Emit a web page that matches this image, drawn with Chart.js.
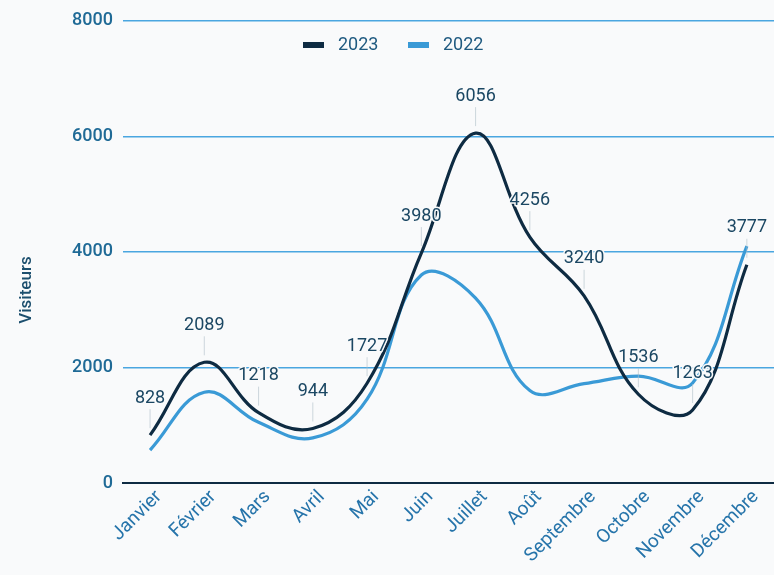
<!DOCTYPE html>
<html>
<head>
<meta charset="utf-8">
<script src="https://cdn.jsdelivr.net/npm/chart.js@4"></script>
<style>
  html, body { margin: 0; padding: 0; background: #f9fafb; }
  #wrap { width: 774px; height: 575px; }
</style>
</head>
<body>
<div id="wrap"><canvas id="chart"></canvas></div>
<script>
const months = ['Janvier', 'Février', 'Mars', 'Avril', 'Mai', 'Juin', 'Juillet', 'Août', 'Septembre', 'Octobre', 'Novembre', 'Décembre'];
const visits2023 = [828, 2089, 1218, 944, 1727, 3980, 6056, 4256, 3240, 1536, 1263, 3777];
const visits2022 = [570, 1570, 1050, 780, 1450, 3600, 3200, 1600, 1720, 1850, 1730, 4100];
const yTicks = [0, 2000, 4000, 6000, 8000];

const ff = 'Roboto, "Noto Sans", sans-serif';
const navy = '#0e2b42';
const sky = '#3a9ad6';
const bg = '#f9fafb';

// value labels with a short grey leader line, drawn above each 2023 point
const valueLabels = {
    id: 'valueLabels',
    afterDatasetsDraw(chart) {
        const ctx = chart.ctx;
        const meta = chart.getDatasetMeta(0);
        ctx.save();
        ctx.font = '18px ' + ff;
        ctx.textAlign = 'center';
        ctx.textBaseline = 'middle';
        meta.data.forEach((pt, i) => {
            const x = pt.x, y = pt.y;
            ctx.strokeStyle = 'rgba(175,190,200,0.6)';
            ctx.lineWidth = 1;
            ctx.beginPath();
            ctx.moveTo(x, y - 26);
            ctx.lineTo(x, y - 7);
            ctx.stroke();
            ctx.lineWidth = 3;
            ctx.strokeStyle = bg;
            ctx.lineJoin = 'round';
            ctx.strokeText(String(visits2023[i]), x, y - 37);
            ctx.fillStyle = '#1b4763';
            ctx.fillText(String(visits2023[i]), x, y - 37);
        });
        ctx.restore();
    }
};

// legend inside the plot area + y title centred on the whole canvas
const extras = {
    id: 'extras',
    afterDraw(chart) {
        const ctx = chart.ctx;
        const items = [{ t: '2023', c: navy, x: 303 }, { t: '2022', c: sky, x: 408 }];
        ctx.save();
        ctx.font = '18px ' + ff;
        ctx.textBaseline = 'middle';
        ctx.textAlign = 'left';
        items.forEach(it => {
            ctx.fillStyle = it.c;
            ctx.fillRect(it.x, 42, 21, 6);
            ctx.fillStyle = '#1f5a80';
            ctx.fillText(it.t, it.x + 35, 45);
        });
        ctx.translate(27, 290);
        ctx.rotate(-Math.PI / 2);
        ctx.textAlign = 'center';
        ctx.font = '500 17px ' + ff;
        ctx.fillStyle = '#1c4f6e';
        ctx.fillText('Visiteurs', 0, 0);
        ctx.restore();
    }
};

new Chart(document.getElementById('chart'), {
    type: 'line',
    data: {
        labels: months,
        datasets: [
            { label: '2023', data: visits2023, borderColor: navy, borderWidth: 3.2, tension: 0.4, pointRadius: 0, fill: false },
            { label: '2022', data: visits2022, borderColor: sky, borderWidth: 3.2, tension: 0.4, pointRadius: 0, fill: false }
        ]
    },
    options: {
        responsive: true, maintainAspectRatio: false, animation: false,
        layout: { padding: { top: 10, left: 62, right: 0, bottom: 0 } },
        plugins: { legend: { display: false }, tooltip: { enabled: false } },
        scales: {
            x: {
                offset: true,
                afterFit: s => { s.height = 92; },
                grid: { display: false, drawTicks: false },
                border: { display: true, color: navy, width: 2 },
                ticks: { font: { size: 19, family: ff }, color: '#2674aa', maxRotation: 45, minRotation: 45, padding: 3, labelOffset: 9 }
            },
            y: {
                min: 0, max: 8000,
                afterBuildTicks: axis => { axis.ticks = yTicks.map(v => ({ value: v })); },
                grid: { color: '#4aa6e0', lineWidth: 1.5, drawTicks: false },
                border: { display: false },
                ticks: { font: { size: 18, family: ff, weight: '500' }, color: '#1f6a96', padding: 10, callback: v => String(v) }
            }
        }
    },
    plugins: [valueLabels, extras]
});
</script>
</body>
</html>
